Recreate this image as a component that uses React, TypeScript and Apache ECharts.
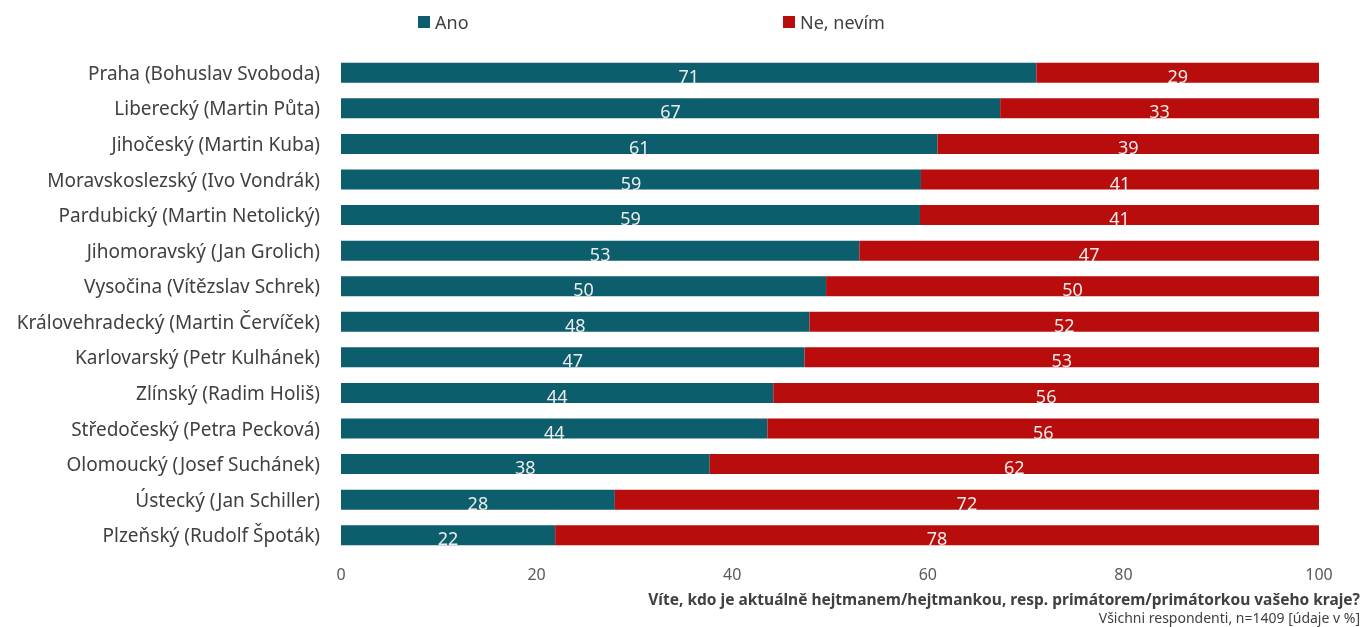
import React, { useEffect, useRef } from "react";
import * as echarts from "echarts";

const categories = [
  "Praha (Bohuslav Svoboda)",
  "Liberecký (Martin Půta)",
  "Jihočeský (Martin Kuba)",
  "Moravskoslezský (Ivo Vondrák)",
  "Pardubický (Martin Netolický)",
  "Jihomoravský (Jan Grolich)",
  "Vysočina (Vítězslav Schrek)",
  "Královehradecký (Martin Červíček)",
  "Karlovarský (Petr Kulhánek)",
  "Zlínský (Radim Holiš)",
  "Středočeský (Petra Pecková)",
  "Olomoucký (Josef Suchánek)",
  "Ústecký (Jan Schiller)",
  "Plzeňský (Rudolf Špoták)",
];
const ano = [71.1, 67.4, 61.0, 59.3, 59.2, 53.0, 49.6, 47.9, 47.4, 44.2, 43.6, 37.7, 28.0, 21.9];
const ne = [28.9, 32.6, 39.0, 40.7, 40.8, 47.0, 50.4, 52.1, 52.6, 55.8, 56.4, 62.3, 72.0, 78.1];
const xTicks = [0, 20, 40, 60, 80, 100];

const FONT = "'Noto Sans', 'Open Sans', sans-serif";

export default function App() {
  const ref = useRef<HTMLDivElement>(null);
  useEffect(() => {
    if (!ref.current) return;
    const chart = echarts.init(ref.current, null, { renderer: "svg" });
    const labelCfg = {
      show: true,
      position: "inside",
      color: "#ececec",
      fontSize: 18,
      fontFamily: FONT,
      offset: [0, 3],
      formatter: (p: any) => String(Math.round(p.value)),
    };
    const legendText = { fontSize: 18, color: "#404040", fontFamily: FONT };
    chart.setOption({
      animation: false,
      textStyle: { fontFamily: FONT },
      legend: [
        {
          top: 8,
          left: 413,
          itemWidth: 12,
          itemHeight: 12,
          itemGap: 5,
          icon: "rect",
          textStyle: legendText,
          data: ["Ano"],
        },
        {
          top: 8,
          left: 778,
          itemWidth: 12,
          itemHeight: 12,
          icon: "rect",
          textStyle: legendText,
          data: ["Ne, nevím"],
        },
      ],
      grid: { left: 341, right: 47, top: 55, bottom: 74, containLabel: false },
      xAxis: {
        type: "value",
        min: 0,
        max: 100,
        interval: 20,
        axisLine: { show: false },
        axisTick: { show: false },
        splitLine: { show: false },
        axisLabel: {
          color: "#595959",
          fontSize: 16,
          margin: 13,
          fontFamily: FONT,
          formatter: (v: number) => (xTicks.includes(v) ? String(v) : ""),
        },
      },
      yAxis: {
        type: "category",
        inverse: true,
        data: categories,
        axisLine: { show: false },
        axisTick: { show: false },
        axisLabel: { color: "#404040", fontSize: 19, margin: 21, fontFamily: FONT },
      },
      series: [
        {
          name: "Ano",
          type: "bar",
          stack: "t",
          barWidth: 20,
          data: ano,
          itemStyle: { color: "#0d5e6c" },
          label: labelCfg,
        },
        {
          name: "Ne, nevím",
          type: "bar",
          stack: "t",
          barWidth: 20,
          data: ne,
          itemStyle: { color: "#b90d0d" },
          label: labelCfg,
        },
      ],
      graphic: [
        {
          type: "text",
          right: 6,
          top: 591,
          style: {
            text: "Víte, kdo je aktuálně hejtmanem/hejtmankou, resp. primátorem/primátorkou vašeho kraje?",
            font: `bold 15.5px ${FONT}`,
            fill: "#404040",
          },
        },
        {
          type: "text",
          right: 6,
          top: 610,
          style: {
            text: "Všichni respondenti, n=1409 [údaje v %]",
            font: `14px ${FONT}`,
            fill: "#404040",
          },
        },
      ],
    });
    return () => chart.dispose();
  }, []);
  return (
    <div
      ref={ref}
      style={{ position: "fixed", left: 0, top: 0, width: 1366, height: 627 }}
    />
  );
}
